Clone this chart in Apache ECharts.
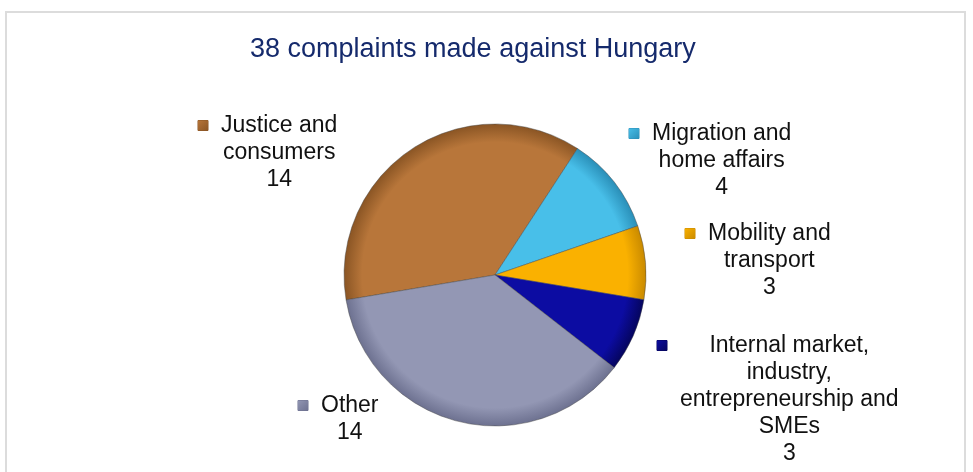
<!DOCTYPE html>
<html>
<head>
<meta charset="utf-8">
<script src="https://cdn.jsdelivr.net/npm/echarts@6/dist/echarts.min.js"></script>
<style>
  html, body { margin: 0; padding: 0; background: #ffffff; }
  #chart { width: 973px; height: 472px; }
</style>
</head>
<body>
<div id="chart"></div>
<script>
// ---- data ----
const titleText = '38 complaints made against Hungary';
const categories = [
  'Justice and consumers',
  'Migration and home affairs',
  'Mobility and transport',
  'Internal market, industry, entrepreneurship and SMEs',
  'Other'
];
const values = [14, 4, 3, 3, 14];

// ---- display (wrapping, colours, label placement) ----
const labelWrap = [
  ['Justice and', 'consumers'],
  ['Migration and', 'home affairs'],
  ['Mobility and', 'transport'],
  ['Internal market,', 'industry,', 'entrepreneurship and', 'SMEs'],
  ['Other']
];
const baseColors = ['#b8763a', '#48bfe9', '#fab100', '#0c0ca2', '#9397b4'];
const edgeColors = ['#8a5524', '#2a8fb8', '#c98a00', '#05055e', '#6d7190'];
const labelPos = [
  [198, 112],
  [629, 120],
  [685, 220],
  [657, 332],
  [298, 392]
];
const CX = 495, CY = 275, R = 151;

function richFor(i) {
  return {
    m: { width: 10, height: 10, backgroundColor: {
      type: 'linear', x: 0, y: 0, x2: 1, y2: 1,
      colorStops: [{ offset: 0, color: baseColors[i] }, { offset: 1, color: edgeColors[i] }]
    }, borderColor: edgeColors[i], borderWidth: 0.5 },
    g: { width: 13 },
    s: { width: 23 },
    t: { align: 'center', fontSize: 23, lineHeight: 27, color: '#111111',
         fontFamily: '"Liberation Sans", Arial, sans-serif' }
  };
}

const chart = echarts.init(document.getElementById('chart'), null, { renderer: 'canvas' });

const seriesData = categories.map((name, i) => ({
  name: name,
  value: values[i],
  itemStyle: {
    color: {
      type: 'radial', x: CX, y: CY, r: R, global: true,
      colorStops: [
        { offset: 0, color: baseColors[i] },
        { offset: 0.88, color: baseColors[i] },
        { offset: 1, color: edgeColors[i] }
      ]
    }
  },
  label: {
    rich: richFor(i),
    formatter: function (p) {
      const lines = labelWrap[p.dataIndex].slice();
      lines.push(String(p.value));
      return lines.map((ln, k) => (k === 0 ? '{m|}{g|}' : '{s|}') + '{t|' + ln + '}').join('\n');
    }
  }
}));

chart.setOption({
  animation: false,
  backgroundColor: '#ffffff',
  title: {
    text: titleText,
    left: 250,
    top: 35,
    padding: 0,
    textStyle: {
      fontFamily: '"Liberation Sans", Arial, sans-serif',
      fontSize: 27,
      fontWeight: 'normal',
      color: '#152a6c',
      lineHeight: 30
    }
  },
  graphic: [{
    type: 'rect',
    shape: { x: 6, y: 12, width: 959, height: 480 },
    style: { fill: 'none', stroke: '#dcdcdc', lineWidth: 2 },
    z: -10
  }],
  series: [{
    type: 'pie',
    center: [CX, CY],
    radius: R,
    startAngle: 189.5,
    clockwise: true,
    data: seriesData,
    itemStyle: { borderColor: 'rgba(70,70,70,0.45)', borderWidth: 1 },
    label: {
      show: true,
      position: 'outside',
      color: '#111111'
    },
    labelLine: { show: false },
    labelLayout: function (params) {
      const p = labelPos[params.dataIndex];
      return { x: p[0], y: p[1], align: 'left', verticalAlign: 'top', hideOverlap: false, moveOverlap: false };
    },
    emphasis: { disabled: true }
  }]
});
</script>
</body>
</html>
